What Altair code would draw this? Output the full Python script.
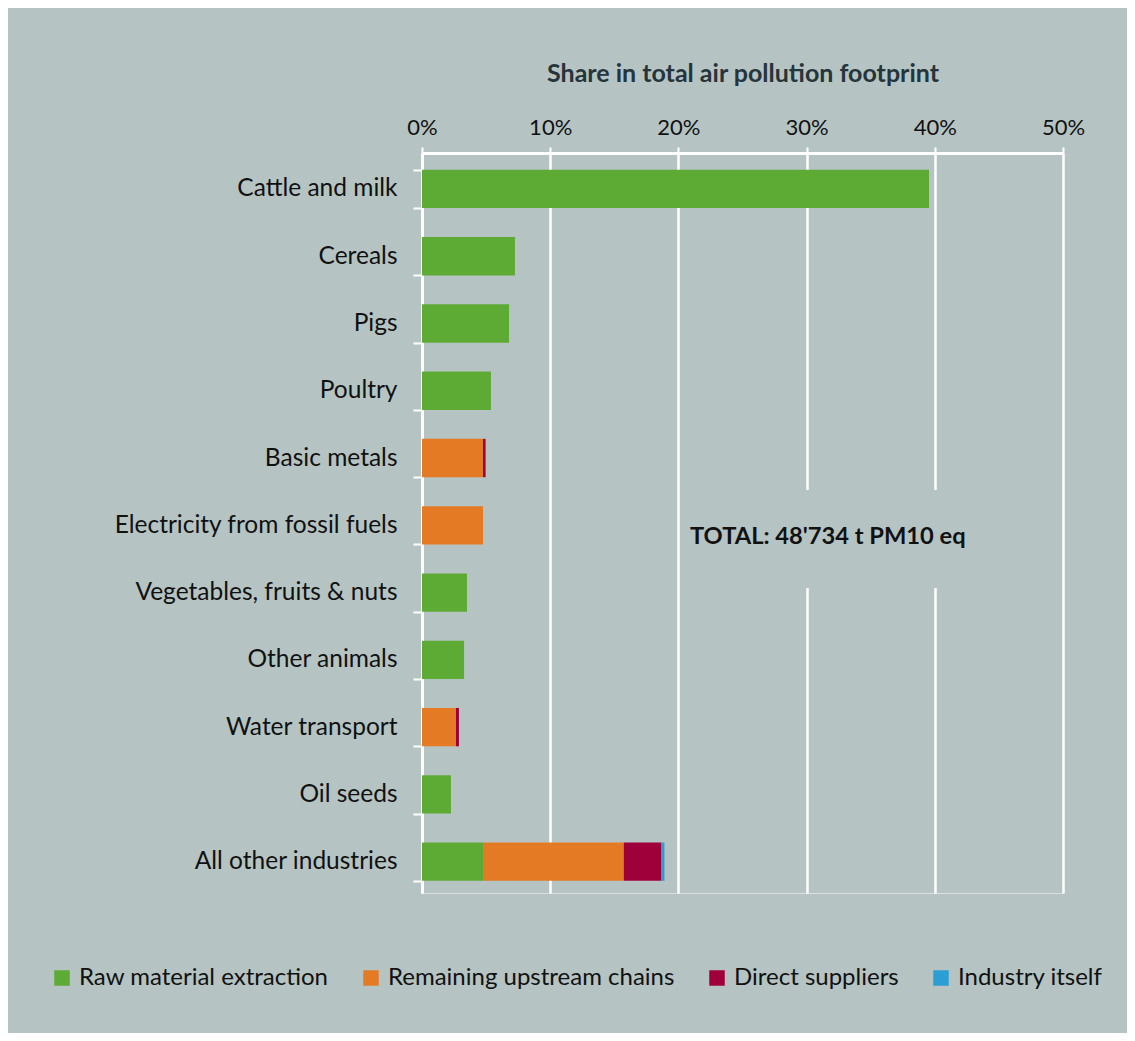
import altair as alt
import pandas as pd

categories = ["Cattle and milk", "Cereals", "Pigs", "Poultry", "Basic metals",
              "Electricity from fossil fuels", "Vegetables, fruits & nuts",
              "Other animals", "Water transport", "Oil seeds", "All other industries"]
series = ["Raw material extraction", "Remaining upstream chains",
          "Direct suppliers", "Industry itself"]
colors = ["#5dab35", "#e57a24", "#a0003a", "#2b9fd4"]

raw_material = [39.55, 7.25, 6.79, 5.38, 0.0, 0.0, 3.51, 3.28, 0.0, 2.26, 4.76]
remaining_upstream = [0.0, 0.0, 0.0, 0.0, 4.76, 4.76, 0.0, 0.0, 2.65, 0.0, 10.98]
direct_suppliers = [0.0, 0.0, 0.0, 0.0, 0.2, 0.0, 0.0, 0.0, 0.23, 0.0, 2.94]
industry_itself = [0.0, 0.0, 0.0, 0.0, 0.0, 0.0, 0.0, 0.0, 0.0, 0.0, 0.23]

x_ticks = [0, 10, 20, 30, 40, 50]
total_text = "TOTAL: 48'734 t PM10 eq"

rows = []
for si, (s, vals) in enumerate(zip(series, [raw_material, remaining_upstream,
                                             direct_suppliers, industry_itself])):
    for c, v in zip(categories, vals):
        rows.append({"category": c, "series": s, "value": v, "order": si})
df = pd.DataFrame(rows)

BG = "#b5c4c3"
FONT = "Lato"

y_enc = alt.Y("category:N", sort=categories, title=None,
              scale=alt.Scale(paddingInner=0.43, paddingOuter=0.215, align=0.58),
              axis=alt.Axis(tickBand="extent", domainColor="white", domainWidth=3,
                            tickColor="white", tickWidth=2, tickSize=9,
                            labelFontSize=24.5, labelColor="#111111", labelFont=FONT,
                            labelPadding=16, labelLimit=0, grid=False))

x_scale = alt.Scale(domain=[0, 50], nice=False)

bars = alt.Chart(df).mark_bar().encode(
    x=alt.X("value:Q", stack="zero", scale=x_scale,
            title="Share in total air pollution footprint",
            axis=alt.Axis(orient="top", values=x_ticks, labelExpr="datum.value + '%'",
                          grid=True, gridColor="white", gridWidth=2.5,
                          domainColor="white", domainWidth=3,
                          tickColor="white", tickWidth=2, tickSize=6,
                          labelFontSize=22, labelColor="#111111", labelFont=FONT,
                          labelPadding=8, labelFlush=False, labelOverlap=False,
                          titleFontSize=25, titleFontWeight="bold", titleColor="#26343b",
                          titleFont=FONT, titlePadding=30)),
    y=y_enc,
    color=alt.Color("series:N", sort=series,
                    scale=alt.Scale(domain=series, range=colors),
                    legend=alt.Legend(title=None, orient="none", direction="horizontal",
                                      legendX=-372, legendY=813, symbolType="square",
                                      symbolSize=240, symbolStrokeWidth=0,
                                      labelFontSize=24, labelFont=FONT, labelLimit=0,
                                      labelColor="#111111", columnPadding=30,
                                      labelOffset=5, columns=4)),
    order=alt.Order("order:Q"),
)

ann = pd.DataFrame({"x": [20.6], "x2": [45.5], "tx": [20.9],
                    "category": ["Electricity from fossil fuels"], "label": [total_text]})

box = alt.Chart(ann).mark_rect(color=BG).encode(
    x=alt.X("x:Q", scale=x_scale), x2="x2:Q",
    y=alt.value(337), y2=alt.value(435))

txt = alt.Chart(ann).mark_text(align="left", baseline="middle", fontSize=23.7,
                               fontWeight="bold", font=FONT, color="#111111", dy=12).encode(
    x=alt.X("tx:Q", scale=x_scale),
    y=alt.Y("category:N", sort=categories),
    text="label:N")

chart = alt.layer(bars, box, txt).properties(
    width=641, height=740,
    autosize=alt.AutoSizeParams(type="none"),
    padding={"left": 414, "top": 145, "right": 64, "bottom": 140},
    background=BG,
).configure_view(stroke="white", strokeWidth=2.5).configure(font=FONT)

chart.save("out.html", embed_options={"renderer": "svg", "actions": False})
